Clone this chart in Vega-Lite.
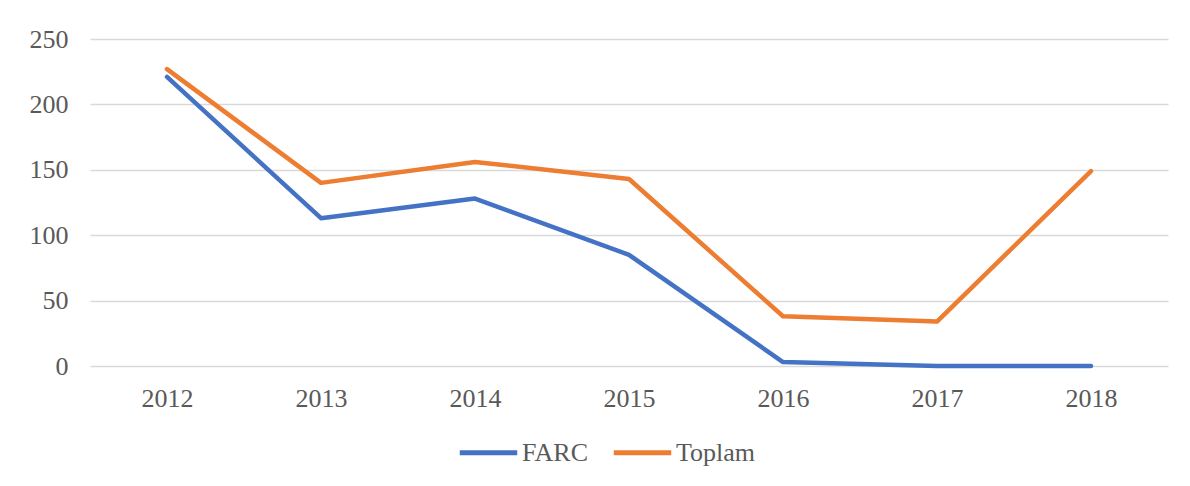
{
  "$schema": "https://vega.github.io/schema/vega-lite/v6.json",
  "width": 1078,
  "height": 327,
  "autosize": "none",
  "padding": {"left": 90, "top": 39, "right": 22, "bottom": 120},
  "background": "white",
  "config": {
    "view": {"stroke": null},
    "font": "Liberation Serif"
  },
  "data": {
    "values": [
      {"year": "2012", "series": "FARC", "value": 221},
      {"year": "2013", "series": "FARC", "value": 113},
      {"year": "2014", "series": "FARC", "value": 128},
      {"year": "2015", "series": "FARC", "value": 85},
      {"year": "2016", "series": "FARC", "value": 3},
      {"year": "2017", "series": "FARC", "value": 0},
      {"year": "2018", "series": "FARC", "value": 0},
      {"year": "2012", "series": "Toplam", "value": 227},
      {"year": "2013", "series": "Toplam", "value": 140},
      {"year": "2014", "series": "Toplam", "value": 156},
      {"year": "2015", "series": "Toplam", "value": 143},
      {"year": "2016", "series": "Toplam", "value": 38},
      {"year": "2017", "series": "Toplam", "value": 34},
      {"year": "2018", "series": "Toplam", "value": 149}
    ]
  },
  "mark": {"type": "line", "strokeWidth": 4.5, "strokeCap": "round", "strokeJoin": "round"},
  "encoding": {
    "x": {
      "field": "year", "type": "ordinal", "title": null,
      "scale": {"type": "point", "padding": 0.5},
      "axis": {"domain": false, "ticks": false, "grid": false, "labelAngle": 0, "labelFont": "Liberation Serif", "labelFontSize": 26, "labelColor": "#595959", "labelPadding": 19}
    },
    "y": {
      "field": "value", "type": "quantitative", "title": null,
      "scale": {"domain": [0, 250], "nice": false},
      "axis": {"values": [0, 50, 100, 150, 200, 250], "domain": false, "ticks": false, "gridColor": "#D9D9D9", "gridWidth": 1.5, "labelFont": "Liberation Serif", "labelFontSize": 26, "labelColor": "#595959", "labelPadding": 22}
    },
    "color": {
      "field": "series", "type": "nominal", "title": null,
      "scale": {"domain": ["FARC", "Toplam"], "range": ["#4472C4", "#ED7D31"]},
      "legend": {"orient": "none", "legendX": 367, "legendY": 382, "direction": "horizontal", "symbolType": "stroke", "symbolSize": 3300, "symbolStrokeWidth": 5, "labelFont": "Liberation Serif", "labelFontSize": 26, "labelColor": "#595959", "columnPadding": 15, "labelOffset": 2}
    }
  }
}
